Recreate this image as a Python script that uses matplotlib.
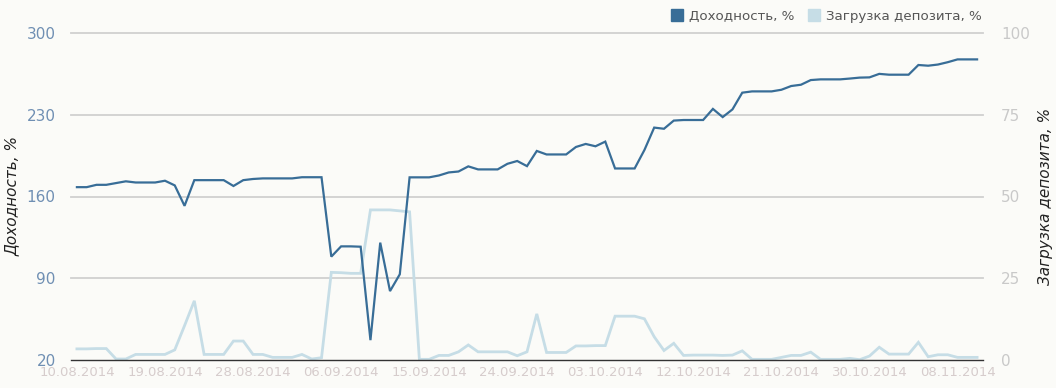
import numpy as np
import pandas as pd
import matplotlib
matplotlib.use("Agg")
import matplotlib.pyplot as plt
import matplotlib.dates as mdates
from matplotlib.lines import Line2D

plt.rcParams["font.family"] = ["DejaVu Sans"]

# daily values, 10.08.2014 .. 10.11.2014
start_date = "2014-08-10"
profit = [168, 168, 170, 170, 171.5, 173, 172, 172, 172, 173.5,
          169.5, 152, 174, 174, 174, 174, 169, 174, 175, 175.5,
          175.5, 175.5, 175.5, 176.5, 176.5, 176.5, 108.5, 117.3, 117.3, 117,
          37, 120.5, 79, 93.4, 176.4, 176.4, 176.4, 178, 180.6, 181.4,
          185.8, 183.2, 183.2, 183.2, 188, 190.4, 186, 199, 196, 196,
          196, 202.4, 205, 203, 207, 184, 184, 184, 199.8, 219,
          218, 225, 225.5, 225.5, 225.5, 235, 228, 234.6, 248.9, 250,
          250, 250, 251.4, 254.6, 255.7, 259.7, 260.3, 260.3, 260.3, 261,
          261.8, 262, 265, 264.3, 264.3, 264.3, 272.6, 272, 273, 275,
          277.4, 277.4, 277.4]
load = [3.4, 3.4, 3.5, 3.5, 0.3, 0.3, 1.7, 1.7, 1.7, 1.7,
        3.1, 10.5, 18.1, 1.7, 1.7, 1.7, 5.8, 5.8, 1.7, 1.7,
        0.8, 0.8, 0.8, 1.7, 0.3, 0.7, 26.8, 26.7, 26.5, 26.5,
        45.9, 45.9, 45.9, 45.6, 45.3, 0.2, 0.2, 1.4, 1.4, 2.5,
        4.6, 2.5, 2.5, 2.5, 2.5, 1.3, 2.5, 14.1, 2.3, 2.3,
        2.3, 4.3, 4.3, 4.4, 4.4, 13.4, 13.4, 13.4, 12.6, 7.1,
        2.9, 5.1, 1.4, 1.5, 1.5, 1.5, 1.4, 1.5, 2.8, 0.2,
        0.2, 0.2, 0.8, 1.4, 1.4, 2.4, 0.2, 0.2, 0.2, 0.5,
        0.1, 1.2, 3.9, 1.8, 1.8, 1.8, 5.4, 1.0, 1.6, 1.6,
        0.8, 0.8, 0.8]
left_ticks = [20, 90, 160, 230, 300]
right_ticks = [0, 25, 50, 75, 100]
date_ticks = pd.date_range("2014-08-10", "2014-11-08", freq="9D")

dates = pd.date_range(start_date, periods=len(profit), freq="D")

DARK = "#386d97"
LIGHT = "#c6dde6"
BG = "#fbfbf8"

fig = plt.figure(figsize=(10.56, 3.88), dpi=100, facecolor=BG)
ax = fig.add_axes([71 / 1056, 28 / 388, 912 / 1056, 327 / 388])
ax.set_facecolor(BG)
ax2 = ax.twinx()

ax2.plot(dates, load, color=LIGHT, lw=2.0, solid_joinstyle="miter", zorder=2)
ax.plot(dates, profit, color=DARK, lw=1.6, solid_joinstyle="miter", zorder=3)
ax.set_zorder(ax2.get_zorder() + 1)
ax.patch.set_visible(False)
ax2.patch.set_visible(True)
ax2.patch.set_facecolor(BG)

ax.set_ylim(20, 300)
ax2.set_ylim(0, 100)
pad = pd.Timedelta(hours=14.5)
ax.set_xlim(dates[0] - pad, dates[-1] + pad)

ax.set_yticks(left_ticks)
ax2.set_yticks(right_ticks)
ax.set_xticks(date_ticks)
ax.xaxis.set_major_formatter(mdates.DateFormatter("%d.%m.%Y"))

for a in (ax, ax2):
    for s in a.spines.values():
        s.set_visible(False)
ax.spines["bottom"].set_visible(True)
ax.spines["bottom"].set_color("#333333")
ax.spines["bottom"].set_linewidth(1.0)

# gridlines sit on the lower (twin) axes so both lines are drawn over them
ax.grid(False)
ax2.grid(False)
for t in right_ticks[1:]:
    ax2.axhline(t, color="#d0d0d0", lw=1.3, zorder=0, clip_on=False)

ax.tick_params(axis="y", length=0, pad=11, labelsize=11, labelcolor="#6f8fb3")
ax2.tick_params(axis="y", length=0, pad=13, labelsize=11, labelcolor="#c9c9c9")
ax.tick_params(axis="x", length=0, pad=4, labelsize=9.5, labelcolor="#d6cccc")

ax.set_ylabel("Доходность, %", fontsize=11, style="italic", color="#222222",
              va="center")
ax.yaxis.set_label_coords(-0.0647, 0.5)
ax2.set_ylabel("Загрузка депозита, %", fontsize=11, style="italic",
               color="#222222", rotation=90, va="center")
ax2.yaxis.set_label_coords(1.068, 0.5)

handles = [Line2D([], [], ls="none", marker="s", markersize=9,
                  markerfacecolor=DARK, markeredgecolor=DARK),
           Line2D([], [], ls="none", marker="s", markersize=9,
                  markerfacecolor=LIGHT, markeredgecolor=LIGHT)]
fig.legend(handles, ["Доходность, %", "Загрузка депозита, %"], ncol=2,
           loc="upper right", bbox_to_anchor=(994 / 1056, 1 + 2 / 388),
           frameon=False, fontsize=9.6, labelcolor="#555555",
           handlelength=0.8, handletextpad=0.5, columnspacing=1.1)

fig.savefig("out.png", dpi=100, facecolor=BG)
